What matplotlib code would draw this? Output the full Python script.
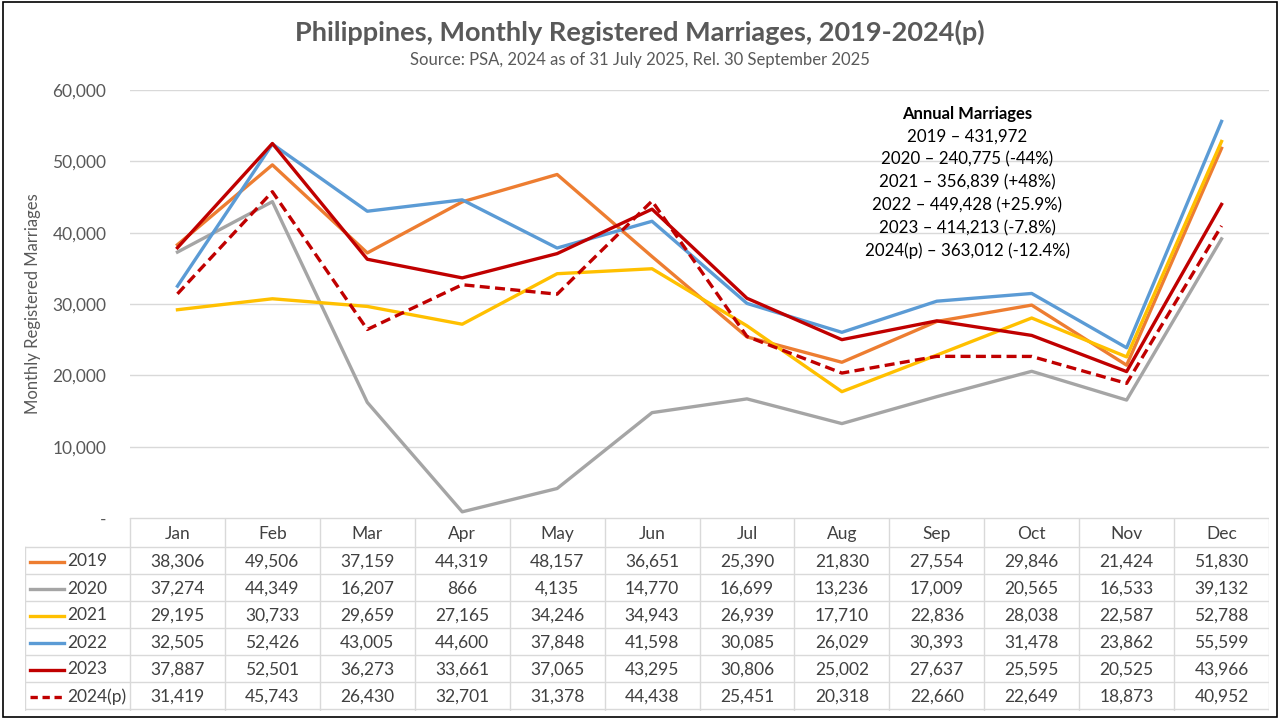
import matplotlib.pyplot as plt
import numpy as np
from matplotlib.lines import Line2D
from matplotlib.patches import Rectangle

plt.rcParams['font.family'] = ['Lato', 'DejaVu Sans']

# data
months = ['Jan', 'Feb', 'Mar', 'Apr', 'May', 'Jun', 'Jul', 'Aug', 'Sep', 'Oct', 'Nov', 'Dec']
years = ['2019', '2020', '2021', '2022', '2023', '2024(p)']
m2019 = [38306, 49506, 37159, 44319, 48157, 36651, 25390, 21830, 27554, 29846, 21424, 51830]
m2020 = [37274, 44349, 16207, 866, 4135, 14770, 16699, 13236, 17009, 20565, 16533, 39132]
m2021 = [29195, 30733, 29659, 27165, 34246, 34943, 26939, 17710, 22836, 28038, 22587, 52788]
m2022 = [32505, 52426, 43005, 44600, 37848, 41598, 30085, 26029, 30393, 31478, 23862, 55599]
m2023 = [37887, 52501, 36273, 33661, 37065, 43295, 30806, 25002, 27637, 25595, 20525, 43966]
m2024 = [31419, 45743, 26430, 32701, 31378, 44438, 25451, 20318, 22660, 22649, 18873, 40952]
series = [m2019, m2020, m2021, m2022, m2023, m2024]
annual_lines = ['2019 – 431,972', '2020 – 240,775 (-44%)', '2021 – 356,839 (+48%)',
                '2022 – 449,428 (+25.9%)', '2023 – 414,213 (-7.8%)', '2024(p) – 363,012 (-12.4%)']

colors = ['#ED7D31', '#A5A5A5', '#FFC000', '#5B9BD5', '#C00000', '#C00000']
styles = ['-', '-', '-', '-', '-', '--']
txt = '#404040'
grid = '#D9D9D9'

fig = plt.figure(figsize=(12.8, 7.2), dpi=100)

# main chart
ax = fig.add_axes([130 / 1280, 1 - 518 / 720, 1139 / 1280, 428 / 720])
x = np.arange(len(months))
for vals, c, ls in zip(series, colors, styles):
    ax.plot(x, vals, color=c, lw=2.4, ls=ls, dashes=(3, 1.6) if ls == '--' else (None, None))
ax.set_xlim(-0.5, 11.5)
ax.set_ylim(0, 60000)
yt = np.arange(0, 60001, 10000)
ax.set_yticks(yt)
ax.set_yticklabels(['-' if v == 0 else f'{v:,}' for v in yt], color='#595959', fontsize=12.5)
ax.tick_params(axis='y', length=0, pad=17)
ax.set_xticks([])
ax.grid(axis='y', color=grid, lw=1)
ax.set_axisbelow(True)
for s in ax.spines.values():
    s.set_visible(False)
ax.set_ylabel('Monthly Registered Marriages', color='#595959', fontsize=12, labelpad=8)

# annual annotation
ax.text(0.735, 0.945, 'Annual Marriages', transform=ax.transAxes, ha='center', va='center',
        fontsize=12, fontweight='bold', color='black')
for i, s in enumerate(annual_lines):
    ax.text(0.735, 0.945 - (i + 1) * 0.0535, s, transform=ax.transAxes, ha='center',
            va='center', fontsize=12.2, color='black')

# titles
fig.text(0.5, 1 - 32 / 720, 'Philippines, Monthly Registered Marriages, 2019-2024(p)',
         ha='center', va='center', fontsize=19.5, fontweight='bold', color='#595959')
fig.text(0.5, 1 - 60 / 720, 'Source: PSA, 2024 as of 31 July 2025, Rel. 30 September 2025',
         ha='center', va='center', fontsize=12, color='#595959')

# data table
tax = fig.add_axes([25 / 1280, 1 - 711 / 720, 1244 / 1280, 193 / 720])
left = -0.5 - 105 / 94.9
tax.set_xlim(left, 11.5)
tax.set_ylim(193, 0)
tax.axis('off')
hdr = 29
rh = 27
# horizontal lines
tax.plot([-0.5, 11.5], [0, 0], color=grid, lw=1)
for r in range(len(years) + 1):
    y = hdr + r * rh
    tax.plot([left, 11.5], [y, y], color=grid, lw=1)
# vertical lines
tax.plot([left, left], [hdr, 193], color=grid, lw=1)
for c in range(len(months) + 1):
    tax.plot([c - 0.5, c - 0.5], [0, 193], color=grid, lw=1)
for c, m in enumerate(months):
    tax.text(c, hdr / 2 + 1.5, m, ha='center', va='center', fontsize=12.5, color=txt)
for r, (yr, vals) in enumerate(zip(years, series)):
    yc = hdr + r * rh + rh / 2 + 1
    ls = styles[r]
    tax.add_line(Line2D([left + 0.055, left + 0.41], [yc, yc], color=colors[r], lw=2.4, ls=ls,
                        dashes=(2.2, 1.4) if ls == '--' else (None, None)))
    tax.text(left + 0.44, yc, yr, ha='left', va='center', fontsize=12.5, color=txt)
    for c, v in enumerate(vals):
        tax.text(c, yc, f'{v:,}', ha='center', va='center', fontsize=12.5, color=txt)

# outer border
fig.add_artist(Rectangle((0.002, 0.004), 0.996, 0.993, transform=fig.transFigure,
                         fill=False, edgecolor='black', lw=1.2))

fig.savefig('out.png', dpi=100)
